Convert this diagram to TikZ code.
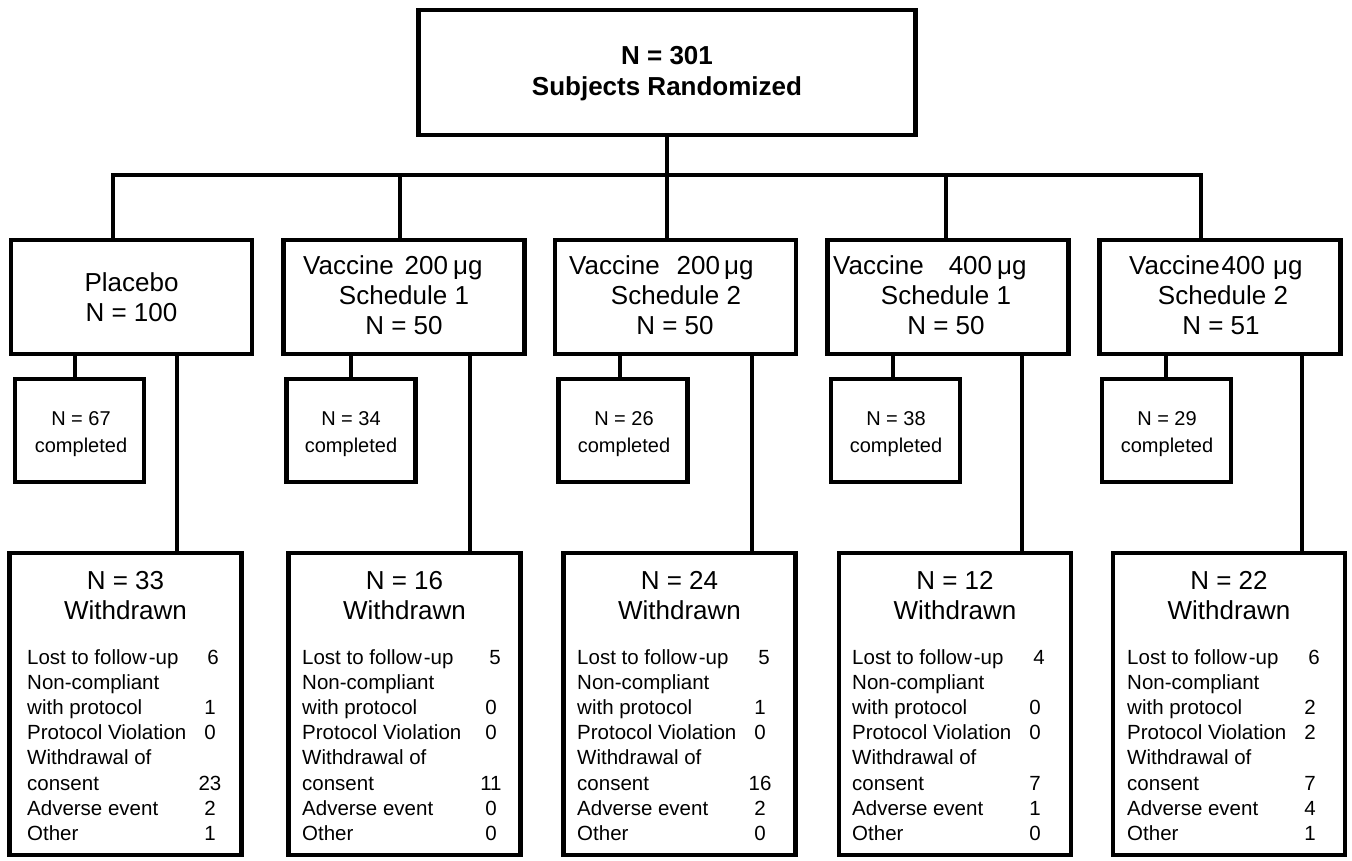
\documentclass[tikz,border=0pt]{standalone}
\usepackage{fontspec}
\setmainfont{Liberation Sans}
\newcommand\bigtxt{\fontsize{26}{30}\selectfont}
\newcommand\smtxt{\fontsize{20.5}{25}\selectfont}
\newcommand\comptxt{\fontsize{20}{27}\selectfont}
\begin{document}
\begin{tikzpicture}[x=1pt,y=-1pt,
  box/.style={draw, line width=4.8pt, inner sep=0pt, minimum width=241pt, minimum height=114pt},
  cbox/.style={draw, line width=4.8pt, inner sep=0pt, minimum width=129pt, minimum height=103pt},
  wbox/.style={draw, line width=4.8pt, inner sep=0pt, minimum width=232pt, minimum height=302pt},
  conn/.style={line width=4.5pt, line join=miter},
  big/.style={inner sep=0pt, anchor=base, font=\bigtxt},
  bigw/.style={inner sep=0pt, anchor=base west, font=\bigtxt},
  comp/.style={inner sep=0pt, anchor=base, font=\comptxt},
  lst/.style={inner sep=0pt, anchor=base west, font=\smtxt},
  num/.style={inner sep=0pt, anchor=base, font=\smtxt}]
\useasboundingbox (0,0) rectangle (1352,861);

% top box
\node[draw, line width=4.8pt, inner sep=0pt, minimum width=497pt, minimum height=125pt] (top) at (667,72.5) {};
\node[big, font=\bigtxt\bfseries] (t1) at (667,64.5) {N = 301};
\node[big, font=\bigtxt\bfseries] (t2) at (667,96) {Subjects Randomized};

% arm boxes
\node[box] (m1) at (131.5,297) {};
\node[box] (m2) at (404,297) {};
\node[box] (m3) at (675.5,297) {};
\node[box] (m4) at (948,297) {};
\node[box] (m5) at (1220,297) {};

\node[big] (m1a) at (131.5,291) {Placebo};
\node[big] (m1b) at (131.5,321) {N = 100};

\node[bigw] (m2a) at (303,274) {Vaccine\hspace{11pt}200\hspace{5pt}μg};
\node[big] (m2b) at (404,304) {Schedule 1};
\node[big] (m2c) at (404,334) {N = 50};

\node[bigw] (m3a) at (569,274) {Vaccine\hspace{17pt}200\hspace{4pt}μg};
\node[big] (m3b) at (676,304) {Schedule 2};
\node[big] (m3c) at (675,334) {N = 50};

\node[bigw] (m4a) at (833,274) {Vaccine\hspace{25pt}400\hspace{5pt}μg};
\node[big] (m4b) at (946,304) {Schedule 1};
\node[big] (m4c) at (946,334) {N = 50};

\node[bigw] (m5a) at (1129,274) {Vaccine\hspace{2pt}400\hspace{8pt}μg};
\node[big] (m5b) at (1223,304) {Schedule 2};
\node[big] (m5c) at (1221,334) {N = 51};

% completed boxes
\node[cbox] (c1) at (79.5,430.5) {};
\node[cbox] (c2) at (351,430.5) {};
\node[cbox] (c3) at (623,430.5) {};
\node[cbox] (c4) at (895.5,430.5) {};
\node[cbox] (c5) at (1166.5,430.5) {};
\foreach \i/\x/\n in {1/81/67, 2/351/34, 3/624/26, 4/896/38, 5/1167/29}{
  \node[comp] (c\i a) at (\x,425) {N = \n};
  \node[comp] (c\i b) at (\x,452) {completed};
}

% withdrawn boxes
\node[wbox] (w1) at (125.5,704) {};
\node[wbox] (w2) at (404.5,704) {};
\node[wbox] (w3) at (679.5,704) {};
\node[wbox] (w4) at (955,704) {};
\node[wbox] (w5) at (1229,704) {};
\foreach \i/\x/\n in {1/125.5/33, 2/404.5/16, 3/679.5/24, 4/955/12, 5/1229/22}{
  \node[big] (w\i h) at (\x,589) {N = \n};
  \node[big] (w\i g) at (\x,619) {Withdrawn};
}
\foreach \i/\lx/\na/\nb/\a/\b/\c/\d/\e/\f in
  {1/27/213/210/6/1/0/23/2/1, 2/302/495/491/5/0/0/11/0/0,
   3/577/764/760/5/1/0/16/2/0, 4/852/1039/1035/4/0/0/7/1/0,
   5/1127/1314/1310/6/2/2/7/4/1}{
  \node[lst] (l\i a) at (\lx,664) {Lost to follow\kern2pt-up};
  \node[lst] (l\i b) at (\lx,689.2) {Non-compliant};
  \node[lst] (l\i c) at (\lx,714.4) {with protocol};
  \node[lst] (l\i d) at (\lx,739.6) {Protocol Violation};
  \node[lst] (l\i e) at (\lx,764.8) {Withdrawal of};
  \node[lst] (l\i f) at (\lx,790) {consent};
  \node[lst] (l\i g) at (\lx,815.2) {Adverse event};
  \node[lst] (l\i h) at (\lx,840.4) {Other};
  \node[num] (n\i a) at (\na,664) {\a};
  \node[num] (n\i c) at (\nb,714.4) {\b};
  \node[num] (n\i d) at (\nb,739.6) {\c};
  \node[num] (n\i f) at (\nb,790) {\d};
  \node[num] (n\i g) at (\nb,815.2) {\e};
  \node[num] (n\i h) at (\nb,840.4) {\f};
}

% connector coordinates
\coordinate (bar) at (0,175);
\coordinate (d1) at (113,0);
\coordinate (d2) at (400,0);
\coordinate (d3) at (667,0);
\coordinate (d4) at (946,0);
\coordinate (d5) at (1201,0);
\coordinate (e1) at (75,0);
\coordinate (e2) at (351,0);
\coordinate (e3) at (620,0);
\coordinate (e4) at (893,0);
\coordinate (e5) at (1166,0);
\coordinate (f1) at (177,0);
\coordinate (f2) at (470,0);
\coordinate (f3) at (752,0);
\coordinate (f4) at (1022,0);
\coordinate (f5) at (1302,0);

\draw[conn] (top.south) -- (top.south |- bar);
\draw[conn] (m1.north -| d1) -- (d1 |- bar) -- (d5 |- bar) -- (m5.north -| d5);
\foreach \i in {2,3,4}{
  \draw[conn] (d\i |- bar) -- (m\i.north -| d\i);
}
\foreach \i in {1,...,5}{
  \draw[conn] (m\i.south -| e\i) -- (c\i.north -| e\i);
  \draw[conn] (m\i.south -| f\i) -- (w\i.north -| f\i);
}
\end{tikzpicture}
\end{document}
